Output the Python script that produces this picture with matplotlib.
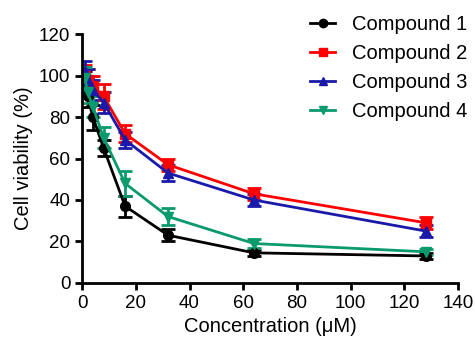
import numpy as np
import matplotlib
matplotlib.use("Agg")
import matplotlib.pyplot as plt
from matplotlib.lines import Line2D

plt.rcParams['font.family'] = ['Liberation Sans', 'DejaVu Sans']

conc = [1, 2, 4, 8, 16, 32, 64, 128]

c1 = [97, 90, 80, 65, 37, 23, 14.5, 13]
c1_err = [5, 5, 6, 4, 5, 3, 1.5, 1.5]
c2 = [100, 98, 95, 90, 72, 57, 43, 29]
c2_err = [5, 5, 5, 6, 4, 3, 3, 3]
c3 = [102, 98, 93, 87, 69, 53, 40, 25]
c3_err = [5, 5, 5, 5, 4, 4, 3, 3]
c4 = [99, 92, 85, 70, 48, 32, 19, 15]
c4_err = [5, 5, 5, 5, 6, 4, 2, 1.5]

series = [
    ("Compound 1", c1, c1_err, "black", "o"),
    ("Compound 2", c2, c2_err, "#ff0000", "s"),
    ("Compound 3", c3, c3_err, "#1a1aaa", "^"),
    ("Compound 4", c4, c4_err, "#0a9a6e", "v"),
]

fig = plt.figure(figsize=(4.75, 3.45), dpi=100)
ax = fig.add_axes([0.173, 0.180, 0.791, 0.721])

handles = []
for name, y, err, col, mk in series:
    ax.errorbar(conc, y, yerr=err, color=col, marker=mk, markersize=7,
                linewidth=2, elinewidth=2, capsize=5, capthick=2)
    handles.append(Line2D([], [], color=col, marker=mk, markersize=6,
                          linewidth=2, label=name))

ax.set_xlim(0, 140)
ax.set_ylim(0, 120)
ax.set_xticks(range(0, 141, 20))
ax.set_yticks(range(0, 121, 20))
for s in ['top', 'right']:
    ax.spines[s].set_visible(False)
for s in ['left', 'bottom']:
    ax.spines[s].set_linewidth(2)
ax.tick_params(width=2, length=5, labelsize=13.5, direction='out')
ax.set_xlabel("Concentration (\u03bcM)", fontsize=14.5)
ax.set_ylabel("Cell viability (%)", fontsize=14.5)

fig.legend(handles=handles, loc='upper left', bbox_to_anchor=(310 / 475, 1 - 15 / 345),
           frameon=False, fontsize=14.5, handlelength=1.25, handletextpad=0.85,
           labelspacing=0.5, borderpad=0, borderaxespad=0)

fig.savefig("out.png", dpi=100)
